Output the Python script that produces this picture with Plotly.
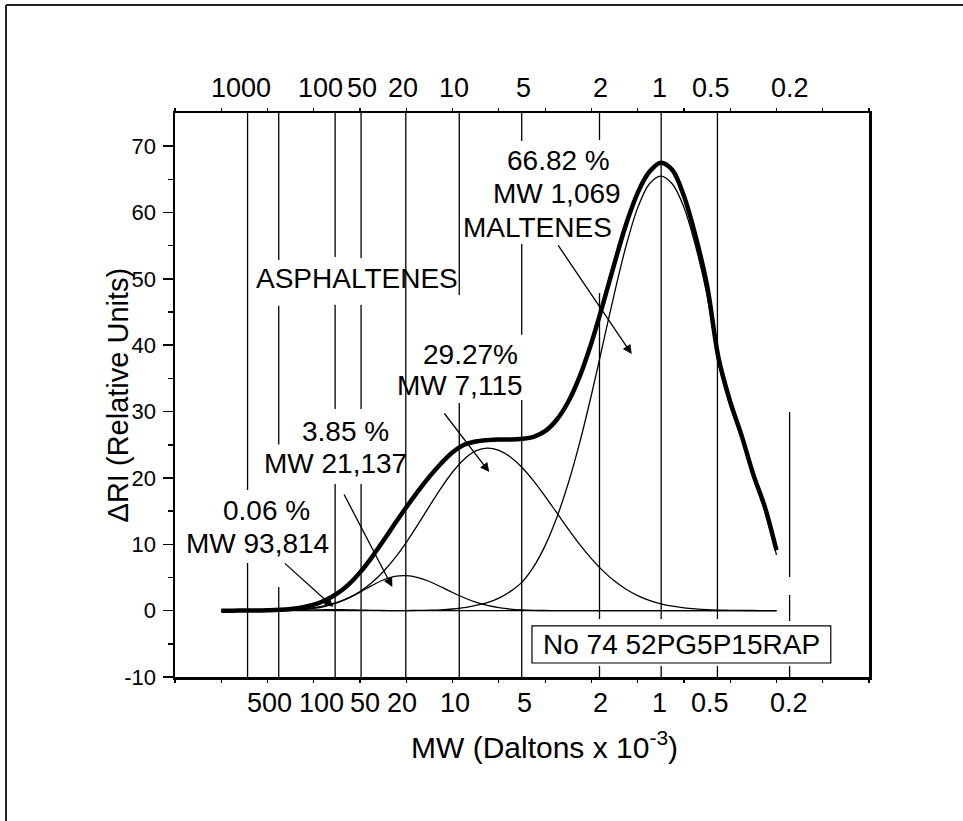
import plotly.graph_objects as go

# ---------------- data ----------------
# elution axis (linear, arbitrary units; 15 ticks across the frame)
elution = [1.00, 1.25, 1.50, 1.75, 2.00, 2.25, 2.50, 2.75, 3.00, 3.25, 3.50, 3.75,
           4.00, 4.25, 4.50, 4.75, 5.00, 5.25, 5.50, 5.75, 6.00, 6.25, 6.50, 6.75,
           7.00, 7.25, 7.50, 7.75, 8.00, 8.25, 8.50, 8.75, 9.00, 9.25, 9.50, 9.75,
           10.00, 10.25, 10.50, 10.75, 11.00, 11.25, 11.50, 11.75, 12.00, 12.25,
           12.50, 12.75, 13.00]

total_ri = [0, 0, 0.01, 0.02, 0.06, 0.12, 0.25, 0.49, 0.90, 1.56, 2.55, 3.93,
            5.77, 8.00, 10.50, 13.09, 15.59, 17.99, 20.20, 22.18, 23.88, 25.0, 25.5, 25.7,
            25.8, 25.8, 25.9, 26.2, 27.05, 28.77, 31.49, 35.35, 40.34, 46.19, 52.36, 58.23,
            62.97, 66.1, 67.5, 66.4, 62.5, 56.5, 49.0, 38.0, 31.5, 26.3,
            20.5, 15.6, 9.1]

peak_006 = [0, 0, 0, 0, 0.01, 0.01, 0.03, 0.07, 0.11, 0.14, 0.15, 0.13,
            0.09, 0.05, 0.02, 0.01, 0, 0, 0, 0, 0, 0, 0, 0,
            0, 0, 0, 0, 0, 0, 0, 0, 0, 0, 0, 0,
            0, 0, 0, 0, 0, 0, 0, 0, 0, 0,
            0, 0, 0]

peak_385 = [0, 0, 0, 0, 0.01, 0.03, 0.07, 0.15, 0.33, 0.65, 1.16, 1.88,
            2.79, 3.76, 4.62, 5.17, 5.28, 4.99, 4.39, 3.59, 2.73, 1.94, 1.27, 0.78,
            0.45, 0.24, 0.12, 0.05, 0.02, 0.01, 0, 0, 0, 0, 0, 0,
            0, 0, 0, 0, 0, 0, 0, 0, 0, 0,
            0, 0, 0]

peak_2927 = [0, 0, 0.01, 0.02, 0.04, 0.08, 0.15, 0.27, 0.46, 0.77, 1.24, 1.92,
             2.89, 4.19, 5.86, 7.91, 10.30, 12.97, 15.75, 18.47, 20.90, 22.83, 24.07, 24.50,
             24.16, 23.16, 21.58, 19.56, 17.23, 14.76, 12.29, 9.95, 7.84, 5.99, 4.46, 3.23,
             2.27, 1.55, 1.03, 0.67, 0.42, 0.26, 0.15, 0.09, 0.05, 0.03,
             0.02, 0.01, 0]

peak_6682 = [0, 0, 0, 0, 0, 0, 0, 0, 0, 0, 0, 0,
             0, 0, 0, 0, 0.01, 0.03, 0.06, 0.12, 0.25, 0.45, 0.80, 1.20,
             1.90, 2.90, 4.30, 6.60, 9.80, 14.00, 19.20, 25.40, 32.50, 40.20, 47.90, 55.00,
             60.70, 64.30, 65.50, 64.30, 60.80, 55.00, 47.50, 37.20, 30.80, 25.80,
             20.00, 15.00, 8.40]

# MW calibration lines (position on elution axis) and their drawn pieces (RI units)
calib_x = [1.568, 2.242, 3.461, 4.022, 4.988, 6.144, 7.494, 9.175, 10.508, 11.724, 13.284]
calib_pieces = [
    [(18.18, 75), (-10, 7.18)],
    [(52.85, 75), (25.03, 45.94), (-10, 3.56)],
    [(53.30, 75), (30.39, 46.09), (-10, 19.09)],
    [(53.15, 75), (30.39, 46.09), (-10, 19.09)],
    [(-10, 75)],
    [(47.57, 75), (-10, 31.30)],
    [(70.78, 75), (41.57, 55.26), (-10, 31.75)],
    [(70.93, 75), (-1.26, 47.87), (-10, -8.34)],
    [(-1.26, 75), (-10, -8.34)],
    [(-1.26, 75), (-10, -8.34)],
    [(5.07, 29.94), (-1.56, 2.36), (-10, -8.34)],
]
top_mw_labels = ["1000", "100", "50", "20", "10", "5", "2", "1", "0.5", "0.2"]
top_mw_pos = [1.424, 3.152, 4.048, 4.934, 6.036, 7.537, 9.190, 10.465, 11.588, 13.295]
bottom_mw_labels = ["500", "100", "50", "20", "10", "5", "2", "1", "0.5", "0.2"]
bottom_mw_pos = [2.039, 3.163, 4.113, 4.912, 6.057, 7.548, 9.190, 10.465, 11.566, 13.273]

y_tick_vals = [-10, 0, 10, 20, 30, 40, 50, 60, 70]
y_tick_text = ["-10", "0", "10", "20", "30", "40", "50", "60", "70"]
y_minor_vals = [-5, 5, 15, 25, 35, 45, 55, 65]

FONT = "Liberation Sans, Arial, Helvetica, sans-serif"
FS_NOTE = 28
FS_MW = 27
FS_TITLE = 30
FS_YTITLE = 29
FS_TICK = 22

fig = go.Figure()

# calibration lines
vx, vy = [], []
for xv, pieces in zip(calib_x, calib_pieces):
    for (y0, y1) in pieces:
        vx += [xv, xv, None]
        vy += [y0, y1, None]
fig.add_trace(go.Scatter(x=vx, y=vy, mode="lines",
                         line=dict(color="black", width=1.3),
                         hoverinfo="skip", showlegend=False))

for comp in (peak_006, peak_385, peak_2927, peak_6682):
    fig.add_trace(go.Scatter(x=elution, y=comp, mode="lines",
                             line=dict(color="black", width=1.3, shape="spline", smoothing=0.9),
                             showlegend=False))

fig.add_trace(go.Scatter(x=elution, y=total_ri, mode="lines",
                         line=dict(color="black", width=4.5, shape="spline", smoothing=0.9),
                         showlegend=False))

ann = []
for lab, xp in zip(top_mw_labels, top_mw_pos):
    ann.append(dict(x=xp, y=1.0443, xref="x", yref="paper", text=lab, showarrow=False,
                    xanchor="center", yanchor="middle",
                    font=dict(family=FONT, size=FS_MW, color="black")))
for lab, xp in zip(bottom_mw_labels, bottom_mw_pos):
    ann.append(dict(x=xp, y=-0.0461, xref="x", yref="paper", text=lab, showarrow=False,
                    xanchor="center", yanchor="middle",
                    font=dict(family=FONT, size=FS_MW, color="black")))

texts = [
    ("ASPHALTENES", 3.926, 50.0),
    ("0.06 %", 1.975, 15.02),
    ("MW 93,814", 1.780, 10.05),
    ("3.85 %", 3.681, 27.07),
    ("MW 21,137", 3.465, 22.25),
    ("29.27%", 6.381, 38.54),
    ("MW 7,115", 6.165, 33.86),
    ("66.82 %", 8.282, 67.77),
    ("MW 1,069", 8.261, 62.8),
    ("MALTENES", 7.829, 57.67),
    ("No 74 52PG5P15RAP", 10.94, -5.10),
]
for t, xp, yp in texts:
    ann.append(dict(x=xp, y=yp, xref="x", yref="y", text=t, showarrow=False,
                    xanchor="center", yanchor="middle",
                    font=dict(family=FONT, size=FS_NOTE, color="black")))

arrows = [
    ((2.342, 7.33), (3.422, 0.55)),
    ((3.638, 17.73), (4.697, 3.56)),
    ((5.798, 29.94), (6.792, 20.89)),
    ((8.261, 55.26), (9.871, 38.68)),
]
for (tx, ty), (hx, hy) in arrows:
    ann.append(dict(x=hx, y=hy, ax=tx, ay=ty, xref="x", yref="y", axref="x", ayref="y",
                    text="", showarrow=True, arrowhead=2, arrowsize=1.4, arrowwidth=1.3,
                    arrowcolor="black", standoff=0))

# axis titles
ann.append(dict(x=0.532, y=-0.1206, xref="paper", yref="paper",
                text="MW (Daltons x 10<sup>-3</sup>)", showarrow=False,
                xanchor="center", yanchor="middle",
                font=dict(family=FONT, size=FS_TITLE, color="black")))
ann.append(dict(x=-0.0815, y=0.5, xref="paper", yref="paper", textangle=-90,
                text="ΔRI (Relative Units)", showarrow=False,
                xanchor="center", yanchor="middle",
                font=dict(family=FONT, size=FS_YTITLE, color="black")))

shapes = [
    dict(type="rect", xref="x", yref="y", x0=7.715, x1=14.174, y0=-7.89, y1=-2.31,
         line=dict(color="black", width=1.2), fillcolor="white", layer="above"),
    # outer page frame: only its left and top sides fall inside the picture
    dict(type="line", xref="paper", yref="paper", x0=-0.2435, x1=-0.2435, y0=-0.5, y1=1.1915,
         line=dict(color="#222", width=2), layer="below"),
    dict(type="line", xref="paper", yref="paper", x0=-0.2435, x1=1.5, y0=1.1915, y1=1.1915,
         line=dict(color="#222", width=2), layer="below"),
]

fig.update_layout(
    width=963, height=821,
    margin=dict(l=175, r=94, t=113, b=144),
    paper_bgcolor="white", plot_bgcolor="white",
    font=dict(family=FONT, size=FS_TICK, color="black"),
    annotations=ann, shapes=shapes,
    xaxis=dict(range=[0, 15], dtick=1, tick0=0, showticklabels=False, ticks="outside",
               ticklen=3, tickwidth=1.2, tickcolor="black", showline=True, linewidth=2.5,
               linecolor="black", mirror="ticks", showgrid=False, zeroline=False),
    yaxis=dict(range=[-10, 75], tickmode="array", tickvals=y_tick_vals, ticktext=y_tick_text,
               ticks="outside", ticklen=10, tickwidth=1.5,
               tickcolor="black", showline=True, linewidth=2.5, linecolor="black", mirror=True,
               showgrid=False, zeroline=False, ticklabelstandoff=2,
               tickfont=dict(family=FONT, size=FS_TICK, color="black"),
               minor=dict(tickmode="array", tickvals=y_minor_vals, ticks="outside", ticklen=5,
                          tickwidth=1.5, tickcolor="black")),
)

fig.write_html("out.html", config={"displayModeBar": False, "staticPlot": True},
               post_script="document.body.style.margin='0';document.body.style.overflow='hidden';")
